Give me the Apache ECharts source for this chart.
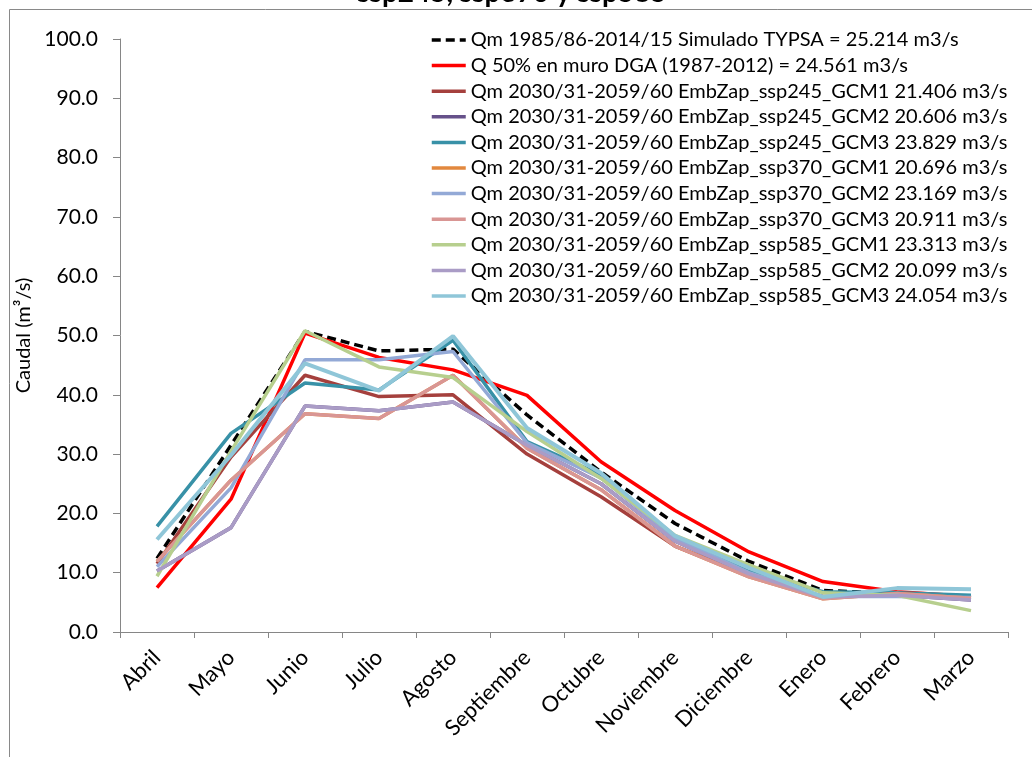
<!DOCTYPE html>
<html>
<head>
<meta charset="utf-8">
<script src="https://cdn.jsdelivr.net/npm/echarts@6/dist/echarts.min.js"></script>
<style>
html,body{margin:0;padding:0;background:#fff;}
#chart{width:1032px;height:757px;}
</style>
</head>
<body>
<div id="chart"></div>
<script>
const categories = ['Abril','Mayo','Junio','Julio','Agosto','Septiembre','Octubre','Noviembre','Diciembre','Enero','Febrero','Marzo'];
const yTicks = [0,10,20,30,40,50,60,70,80,90,100];

const seriesNames = [
  'Qm 1985/86-2014/15 Simulado TYPSA = 25.214 m3/s',
  'Q 50% en muro DGA (1987-2012) = 24.561 m3/s',
  'Qm 2030/31-2059/60 EmbZap_ssp245_GCM1 21.406 m3/s',
  'Qm 2030/31-2059/60 EmbZap_ssp245_GCM2 20.606 m3/s',
  'Qm 2030/31-2059/60 EmbZap_ssp245_GCM3 23.829 m3/s',
  'Qm 2030/31-2059/60 EmbZap_ssp370_GCM1 20.696 m3/s',
  'Qm 2030/31-2059/60 EmbZap_ssp370_GCM2 23.169 m3/s',
  'Qm 2030/31-2059/60 EmbZap_ssp370_GCM3 20.911 m3/s',
  'Qm 2030/31-2059/60 EmbZap_ssp585_GCM1 23.313 m3/s',
  'Qm 2030/31-2059/60 EmbZap_ssp585_GCM2 20.099 m3/s',
  'Qm 2030/31-2059/60 EmbZap_ssp585_GCM3 24.054 m3/s'
];

const typsa      = [12.4, 31.5, 50.7, 47.4, 47.7, 36.6, 27.0, 18.3, 11.9, 7.0, 6.5, 5.8];
const dga50      = [7.5, 22.4, 50.4, 46.3, 44.2, 39.9, 28.7, 20.5, 13.5, 8.5, 6.8, 6.0];
const s245gcm1   = [11.5, 29.5, 43.3, 39.7, 40.0, 30.0, 22.8, 14.5, 9.5, 6.0, 6.3, 5.7];
const s245gcm2   = [10.3, 17.6, 38.1, 37.3, 38.8, 31.5, 25.0, 15.3, 9.8, 5.9, 6.2, 5.4];
const s245gcm3   = [17.8, 33.5, 42.0, 40.8, 49.2, 32.1, 26.5, 16.0, 10.2, 6.8, 6.6, 6.2];
const s370gcm1   = [11.9, 25.6, 36.8, 36.0, 43.3, 31.0, 24.0, 14.5, 9.3, 5.6, 6.5, 5.7];
const s370gcm2   = [11.0, 24.3, 45.9, 45.9, 47.3, 31.9, 26.0, 15.8, 10.0, 6.0, 6.0, 5.8];
const s370gcm3   = [11.9, 25.6, 36.8, 36.0, 43.3, 31.0, 24.0, 14.5, 9.3, 5.6, 6.5, 5.7];
const s585gcm1   = [9.4, 30.5, 50.8, 44.7, 42.9, 33.8, 25.9, 16.3, 11.3, 6.6, 6.2, 3.6];
const s585gcm2   = [10.3, 17.6, 38.1, 37.3, 38.8, 31.5, 25.0, 15.3, 9.8, 5.9, 6.2, 5.4];
const s585gcm3   = [15.6, 29.8, 45.3, 40.7, 49.9, 34.4, 26.8, 16.2, 10.8, 5.9, 7.4, 7.2];

const seriesData = [typsa, dga50, s245gcm1, s245gcm2, s245gcm3, s370gcm1, s370gcm2, s370gcm3, s585gcm1, s585gcm2, s585gcm3];
const seriesColors = ['#000000','#ff0000','#a5403d','#66518a','#3891a7','#e2883e','#93a9d6','#d99694','#b7cf8e','#aa9cc6','#8fc6d8'];

const FONT = 'Lato';

const chart = echarts.init(document.getElementById('chart'), null, {renderer:'canvas'});
const series = seriesNames.map((n,i)=>({
  name: n,
  type: 'line',
  data: seriesData[i],
  symbol: 'none',
  smooth: false,
  lineStyle: {
    color: seriesColors[i],
    width: i===0 ? 3.5 : (i===10 ? 4 : 3.5),
    type: i===0 ? [9,5] : 'solid'
  },
  itemStyle: {color: seriesColors[i]},
  emphasis: {disabled: true},
  animation: false
}));

chart.setOption({
  backgroundColor: '#ffffff',
  animation: false,
  textStyle: {fontFamily: FONT},
  grid: {left: 120, right: 24, top: 39, bottom: 125, containLabel: false},
  legend: {
    orient: 'vertical',
    left: 425,
    top: 25,
    itemWidth: 34,
    itemHeight: 12,
    itemGap: 5.6,
    itemStyle: {opacity: 0},
    lineStyle: {width: 3.5},
    textStyle: {fontFamily: FONT, fontSize: 20, color: '#000'},
    data: seriesNames
  },
  xAxis: {
    type: 'category',
    data: categories,
    boundaryGap: true,
    axisLine: {lineStyle: {color: '#868686', width: 1}},
    axisTick: {show: true, length: 6, lineStyle: {color: '#868686'}},
    axisLabel: {rotate: 45, margin: 22, fontSize: 22, color: '#000', fontFamily: FONT}
  },
  yAxis: {
    type: 'value',
    min: 0, max: 100, interval: 10,
    name: 'Caudal (m³/s)',
    nameLocation: 'middle',
    nameGap: 62,
    nameTextStyle: {fontSize: 20, color: '#000', fontFamily: FONT},
    axisLine: {show: true, lineStyle: {color: '#868686', width: 1}},
    axisTick: {show: true, length: 7, lineStyle: {color: '#868686'}},
    splitLine: {show: false},
    axisLabel: {margin: 22, fontSize: 21, color: '#000', fontFamily: FONT,
      formatter: v => yTicks.indexOf(v) >= 0 ? v.toFixed(1) : ''}
  },
  graphic: [
    {type:'rect', shape:{x:9.5, y:9.5, width:1040, height:800}, style:{fill:'none', stroke:'#898989', lineWidth:1}, silent:true},
    {type:'text', x:512, y:-7.5, style:{text:'ssp245, ssp370 y ssp585', font:'bold 28px Lato', fill:'#000', textAlign:'center', textVerticalAlign:'middle'}, silent:true}
  ],
  series: series
});
</script>
</body>
</html>
